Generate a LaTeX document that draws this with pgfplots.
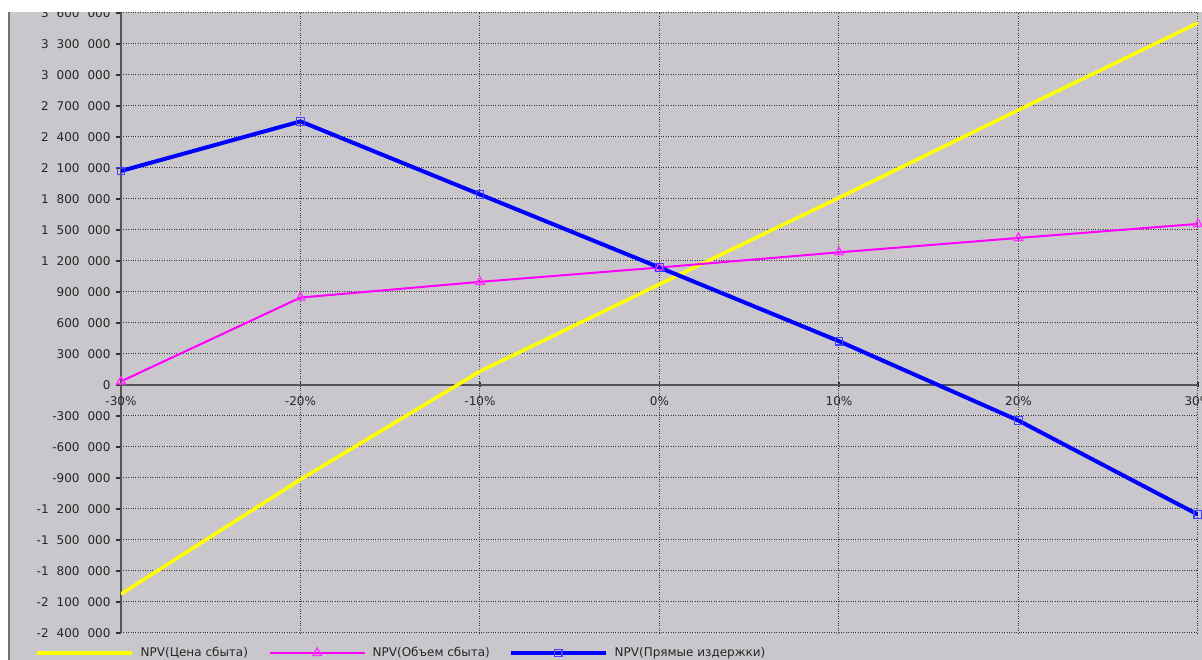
\documentclass[border=0pt]{standalone}
\usepackage{pgfplots}
\pgfplotsset{compat=1.18}
\usepackage{fontspec}
\setmainfont{DejaVu Sans}
\definecolor{bg}{RGB}{201,199,203}
\definecolor{gridc}{RGB}{55,55,55}
\definecolor{axc}{RGB}{85,85,85}
\definecolor{yel}{RGB}{255,255,0}
\definecolor{mag}{RGB}{255,0,255}
\definecolor{blu}{RGB}{0,0,255}
\newcommand\g{\hspace{8pt}}
\begin{document}
\begin{tikzpicture}[x=1pt,y=1pt]
\path[use as bounding box] (-121,-27) rectangle (1081,633);
\fill[bg] (-121,-27) rectangle (1081,633);
\fill[white] (-121,-27) rectangle (-113,633);
\begin{axis}[
  at={(0,0)}, anchor=south west,
  scale only axis, width=1077pt, height=620pt,
  xmin=-30, xmax=30, ymin=-2400000, ymax=3600000,
  axis x line*=middle, axis y line*=left,
  hide obscured x ticks=false, hide obscured y ticks=false,
  axis line style={axc, line width=1.6pt},
  xtick={-30,-20,-10,0,10,20,30},
  xticklabels={-30\%,-20\%,-10\%,0\%,10\%,20\%,30\%},
  ytick={-2400000,-2100000,-1800000,-1500000,-1200000,-900000,-600000,-300000,0,300000,600000,900000,1200000,1500000,1800000,2100000,2400000,2700000,3000000,3300000,3600000},
  yticklabels={-2\g400\g000,-2\g100\g000,-1\g800\g000,-1\g500\g000,-1\g200\g000,-900\g000,-600\g000,-300\g000,0,300\g000,600\g000,900\g000,1\g200\g000,1\g500\g000,1\g800\g000,2\g100\g000,2\g400\g000,2\g700\g000,3\g000\g000,3\g300\g000,3\g600\g000},
  xtick align=center, ytick align=outside,
  major tick length=5pt,
  tick style={black!80, line width=1.5pt},
  grid=major,
  major grid style={dotted, line width=1pt, color=gridc},
  ticklabel style={font=\fontsize{12}{14}\selectfont, text=black!85},
  xticklabel style={anchor=center, yshift=-14pt},
  yticklabel style={anchor=east, xshift=-2pt},
  legend columns=3,
  legend style={at={(-0.07985,-0.03226)}, anchor=west, draw=none, fill=none,
    inner sep=0pt, column sep=0pt,
    nodes={inner xsep=0pt, inner ysep=1pt, anchor=west, font=\fontsize{12}{14}\selectfont, text=black!85},
    /tikz/every odd column/.append style={column sep=7pt}},
  legend image code/.code={\draw[mark repeat=2,mark phase=2] plot coordinates {(0pt,0pt) (47.5pt,0pt) (95pt,0pt)};},
]
\addplot[yel, line width=3.5pt] coordinates {
(-30,-2023000) (-20,-914000) (-10,132000) (0,975000) (10,1812000) (20,2661000) (30,3504000)};
\addlegendentry{\makebox[128pt][l]{NPV(Цена сбыта)}}
\addplot[mag, line width=2pt, mark=triangle, mark size=5pt,
  mark options={draw=mag!80!white, fill=bg, line width=1.3pt}] coordinates {
(-30,35000) (-20,846000) (-10,998000) (0,1137000) (10,1284000) (20,1423000) (30,1559000)};
\addlegendentry{\makebox[136pt][l]{NPV(Объем сбыта)}}
\addplot[blu, line width=4pt, mark=square, mark size=3.8pt,
  mark options={draw=blu!75!white, fill=bg, line width=1.3pt}] coordinates {
(-30,2071000) (-20,2551000) (-10,1844000) (0,1137000) (10,424000) (20,-344000) (30,-1254000)};
\addlegendentry{NPV(Прямые издержки)}
\end{axis}
\fill[white] (-121,620.6) rectangle (1081,633);
\draw[color=black!55, line width=2.5pt] (-112,-27) -- (-112,620.6);
\end{tikzpicture}
\end{document}
